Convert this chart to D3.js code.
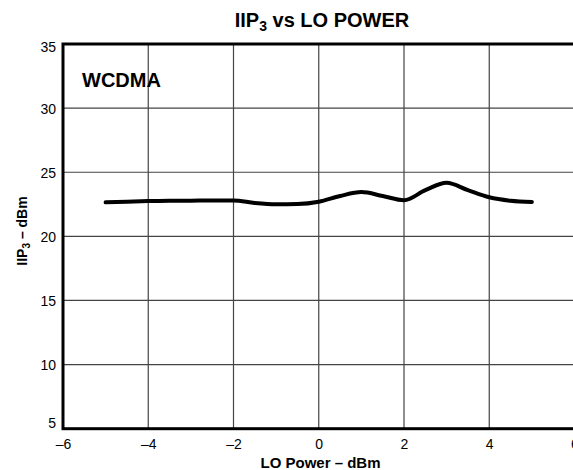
<!DOCTYPE html>
<html>
<head>
<meta charset="utf-8">
<script src="https://cdn.jsdelivr.net/npm/d3@7"></script>
<style>
  html, body { margin: 0; padding: 0; background: #fff; }
  text { font-family: "Liberation Sans", Arial, sans-serif; fill: #000; }
</style>
</head>
<body>
<svg id="chart" width="573" height="470"></svg>
<script>
// Data
const loPower = [-5, -4.5, -4, -3.5, -3, -2.5, -2, -1.5, -1, -0.5, 0, 0.5, 1, 1.5, 2, 2.5, 3, 3.5, 4, 4.5, 5];
const iip3    = [22.65, 22.7, 22.75, 22.77, 22.78, 22.8, 22.8, 22.6, 22.5, 22.52, 22.7, 23.15, 23.45, 23.15, 22.82, 23.6, 24.18, 23.6, 23.05, 22.78, 22.68];
const xTicks = [-6, -4, -2, 0, 2, 4, 6];
const yTicks = [5, 10, 15, 20, 25, 30, 35];
const titleMain = "IIP";
const titleSub = "3";
const titleRest = " vs LO POWER";
const xLabel = "LO Power \u2013 dBm";
const yLabelMain = "IIP";
const yLabelSub = "3";
const yLabelRest = " \u2013 dBm";
const annotation = "WCDMA";

const svg = d3.select("#chart");
const mLeft = 63, mRight = 574.5, mTop = 44, mBottom = 428.7;

const x = d3.scaleLinear().domain([-6, 6]).range([mLeft, mRight]);
const y = d3.scaleLinear().domain([5, 35]).range([mBottom, mTop]);
const fmt = d => (d < 0 ? "\u2013" + Math.abs(d) : String(d));

// Grid lines
svg.append("g").selectAll("line")
  .data(xTicks.slice(1, -1)).join("line")
  .attr("x1", d => x(d)).attr("x2", d => x(d))
  .attr("y1", mTop).attr("y2", mBottom)
  .attr("stroke", "#444").attr("stroke-width", 1.2);
svg.append("g").selectAll("line")
  .data(yTicks.slice(1, -1)).join("line")
  .attr("x1", mLeft).attr("x2", mRight)
  .attr("y1", d => y(d)).attr("y2", d => y(d))
  .attr("stroke", "#444").attr("stroke-width", 1.2);

// Frame
svg.append("rect")
  .attr("x", mLeft).attr("y", mTop)
  .attr("width", mRight - mLeft).attr("height", mBottom - mTop)
  .attr("fill", "none").attr("stroke", "#000").attr("stroke-width", 3);

// Axes (labels only)
const xAxis = svg.append("g").attr("transform", `translate(0,${mBottom})`)
  .call(d3.axisBottom(x).tickValues(xTicks).tickSize(0).tickPadding(10).tickFormat(fmt));
xAxis.select(".domain").remove();
xAxis.selectAll("text").style("font-size", "14px").style("font-family", "Liberation Sans, Arial, sans-serif").attr("fill", "#000");

const yAxis = svg.append("g").attr("transform", `translate(${mLeft},0)`)
  .call(d3.axisLeft(y).tickValues(yTicks).tickSize(0).tickPadding(7).tickFormat(fmt));
yAxis.select(".domain").remove();
yAxis.selectAll("text").style("font-size", "14px").style("font-family", "Liberation Sans, Arial, sans-serif").attr("fill", "#000")
  .attr("dy", d => d === 5 ? "-0.1em" : d === 35 ? "0.55em" : "0.35em");

// Curve
const line = d3.line()
  .x((d, i) => x(loPower[i]))
  .y(d => y(d))
  .curve(d3.curveMonotoneX);
svg.append("path")
  .datum(iip3)
  .attr("d", line)
  .attr("fill", "none")
  .attr("stroke", "#000")
  .attr("stroke-width", 4)
  .attr("stroke-linecap", "round")
  .attr("stroke-linejoin", "round");

// Title
const t = svg.append("text")
  .attr("x", 322).attr("y", 27)
  .attr("text-anchor", "middle")
  .style("font-size", "20px").style("font-weight", "bold");
t.append("tspan").text(titleMain);
t.append("tspan").text(titleSub).style("font-size", "14px").attr("dy", 4);
t.append("tspan").text(titleRest).attr("dy", -4);

// Annotation
svg.append("text")
  .attr("x", 82).attr("y", 87)
  .style("font-size", "20px").style("font-weight", "bold")
  .text(annotation);

// X label
svg.append("text")
  .attr("x", 320.5).attr("y", 468)
  .attr("text-anchor", "middle")
  .style("font-size", "15px").style("font-weight", "bold")
  .text(xLabel);

// Y label
const yl = svg.append("text")
  .attr("transform", "translate(27,231) rotate(-90)")
  .attr("text-anchor", "middle")
  .style("font-size", "14px").style("font-weight", "bold");
yl.append("tspan").text(yLabelMain);
yl.append("tspan").text(yLabelSub).style("font-size", "10px").attr("dy", 3);
yl.append("tspan").text(yLabelRest).attr("dy", -3);
</script>
</body>
</html>
